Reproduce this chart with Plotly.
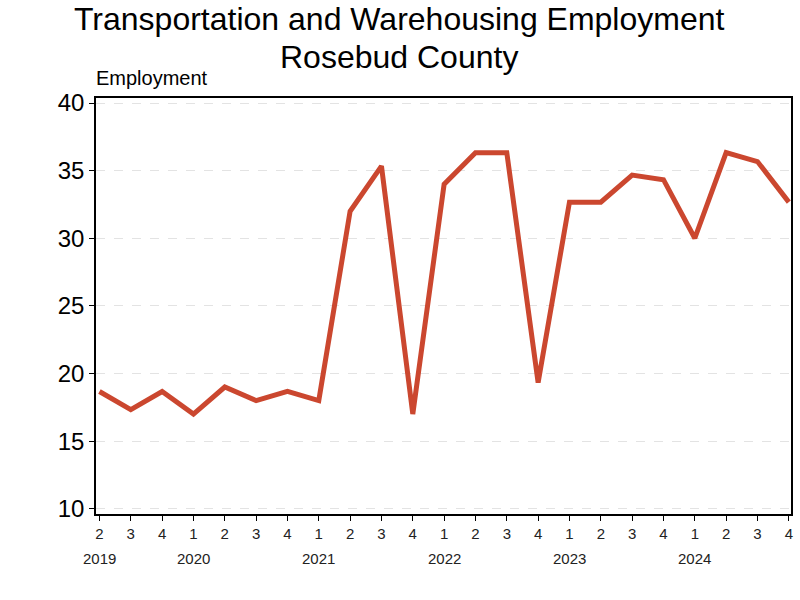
import plotly.graph_objects as go

years = [2019, 2019, 2019, 2020, 2020, 2020, 2020, 2021, 2021, 2021, 2021,
         2022, 2022, 2022, 2022, 2023, 2023, 2023, 2023, 2024, 2024, 2024, 2024]
quarters = [2, 3, 4, 1, 2, 3, 4, 1, 2, 3, 4, 1, 2, 3, 4, 1, 2, 3, 4, 1, 2, 3, 4]
employment = [18.67, 17.33, 18.67, 17.0, 19.0, 18.0, 18.67, 18.0, 32.0, 35.33, 17.0,
              34.0, 36.33, 36.33, 19.33, 32.67, 32.67, 34.67, 34.33, 30.0, 36.33, 35.67, 32.67]
y_ticks = [10, 15, 20, 25, 30, 35, 40]

title_lines = ["Transportation and Warehousing Employment", "Rosebud County"]
y_label = "Employment"

FONT = "Liberation Sans, Arial, sans-serif"
idx = list(range(len(employment)))

fig = go.Figure()
fig.add_trace(go.Scatter(
    x=idx, y=employment, mode="lines",
    line=dict(color="#CB472F", width=5),
    showlegend=False, hoverinfo="skip",
))

# year labels under the first quarter shown for each year
seen = set()
for i, yr in enumerate(years):
    if yr not in seen:
        seen.add(yr)
        fig.add_annotation(
            x=i, y=-0.106, xref="x", yref="paper", text=str(yr),
            showarrow=False, xanchor="center", yanchor="middle",
            font=dict(family=FONT, size=15, color="#222"),
        )

fig.add_annotation(
    x=0, y=1.048, xref="paper", yref="paper", text=y_label,
    showarrow=False, xanchor="left", yanchor="middle", xshift=-2,
    font=dict(family=FONT, size=20, color="#000"),
)

# title lines, centred on the page
plot_left, plot_width = 96, 697
xc = (400 - plot_left) / plot_width
for line, ypos in zip(title_lines, [1.19, 1.099]):
    fig.add_annotation(
        x=xc, y=ypos, xref="paper", yref="paper", text=line,
        showarrow=False, xanchor="center", yanchor="middle",
        font=dict(family=FONT, size=32, color="#000"),
    )

fig.update_layout(
    width=800, height=600,
    margin=dict(l=96, r=7, t=98, b=86),
    paper_bgcolor="white", plot_bgcolor="white",
    xaxis=dict(
        range=[-0.11, 22.07], tickmode="array", tickvals=idx,
        ticktext=[str(q) for q in quarters],
        ticks="outside", ticklen=5, tickcolor="#000", tickwidth=1,
        showgrid=False, zeroline=False,
        showline=True, linecolor="#000", linewidth=1.5, mirror=True,
        tickfont=dict(family=FONT, size=15, color="#222"),
    ),
    yaxis=dict(
        range=[9.61, 40.37], tickmode="array", tickvals=y_ticks,
        ticks="outside", ticklen=5, tickcolor="#000", tickwidth=1,
        showgrid=True, gridcolor="#e3e3e3", griddash="dash", gridwidth=1,
        zeroline=False,
        showline=True, linecolor="#000", linewidth=1.5, mirror=True,
        tickfont=dict(family=FONT, size=24, color="#000"),
    ),
)

fig.write_html("out.html")
